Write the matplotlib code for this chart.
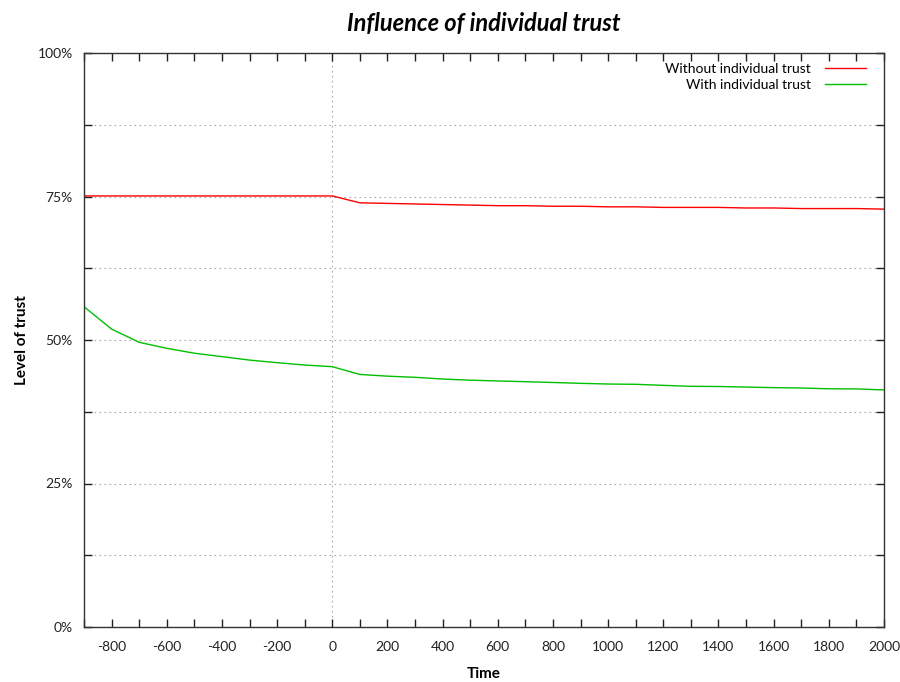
import matplotlib
matplotlib.use("Agg")
import matplotlib.pyplot as plt
from matplotlib.ticker import FuncFormatter, MultipleLocator

plt.rcParams['font.family'] = ['Lato', 'DejaVu Sans']

time = [-900, -800, -700, -600, -500, -400, -300, -200, -100, 0,
        100, 200, 300, 400, 500, 600, 700, 800, 900, 1000,
        1100, 1200, 1300, 1400, 1500, 1600, 1700, 1800, 1900, 2000]

without_trust = [0.751, 0.751, 0.751, 0.751, 0.751, 0.751, 0.751, 0.751, 0.751, 0.751,
                 0.739, 0.738, 0.737, 0.736, 0.735, 0.734, 0.734, 0.733, 0.733, 0.732,
                 0.732, 0.731, 0.731, 0.731, 0.730, 0.730, 0.729, 0.729, 0.729, 0.728]

with_trust = [0.558, 0.519, 0.496, 0.4855, 0.477, 0.471, 0.465, 0.4605, 0.4564, 0.4535,
              0.440, 0.437, 0.435, 0.432, 0.430, 0.4286, 0.4274, 0.426, 0.4245, 0.4233,
              0.4228, 0.421, 0.4193, 0.4190, 0.418, 0.417, 0.4164, 0.415, 0.4148, 0.413]

series_labels = ["Without individual trust", "With individual trust"]
title = "Influence of individual trust"
xlabel = "Time"
ylabel = "Level of trust"

fig = plt.figure(figsize=(9, 6.82), dpi=100)
ax = fig.add_axes([84/900, 1-627/682, 800/900, 574/682])

ax.plot(time, without_trust, color='#ff0000', lw=1.0, label=series_labels[0])
ax.plot(time, with_trust, color='#00c000', lw=1.0, label=series_labels[1])

ax.set_xlim(-900, 2000)
ax.set_ylim(0, 1)
ax.xaxis.set_major_locator(MultipleLocator(100))
ax.yaxis.set_major_locator(MultipleLocator(0.125))
ax.xaxis.set_major_formatter(FuncFormatter(lambda v, p: f"{int(round(v))}" if int(round(v)) % 200 == 0 else ""))
ax.yaxis.set_major_formatter(FuncFormatter(lambda v, p: f"{int(round(v*100))}%" if abs(v*4 - round(v*4)) < 1e-6 else ""))

ax.tick_params(axis='x', pad=10)
ax.tick_params(axis='y', pad=8)
ax.tick_params(direction='in', length=6, width=1, top=True, right=True,
               labelsize=10, colors='#222222')
for s in ax.spines.values():
    s.set_color('#333333')
    s.set_linewidth(1.0)

ax.grid(axis='y', color='#aaaaaa', linestyle=(0, (1.5, 3)), linewidth=0.8)
ax.axvline(0, color='#aaaaaa', linestyle=(0, (1.5, 3)), linewidth=0.8, zorder=0)
ax.set_axisbelow(True)

ax.set_title(title, fontsize=17, fontweight='bold', fontstyle='italic', pad=16)
ax.set_xlabel(xlabel, fontsize=11, fontweight='bold', labelpad=10)
ax.set_ylabel(ylabel, fontsize=11, fontweight='bold', labelpad=6)

ax.legend(loc='upper right', frameon=False, markerfirst=False, fontsize=10,
          handlelength=3.0, handletextpad=1.0, labelspacing=0.3,
          borderaxespad=0.3, bbox_to_anchor=(0.99, 1.0))

fig.savefig("out.png", dpi=100)
